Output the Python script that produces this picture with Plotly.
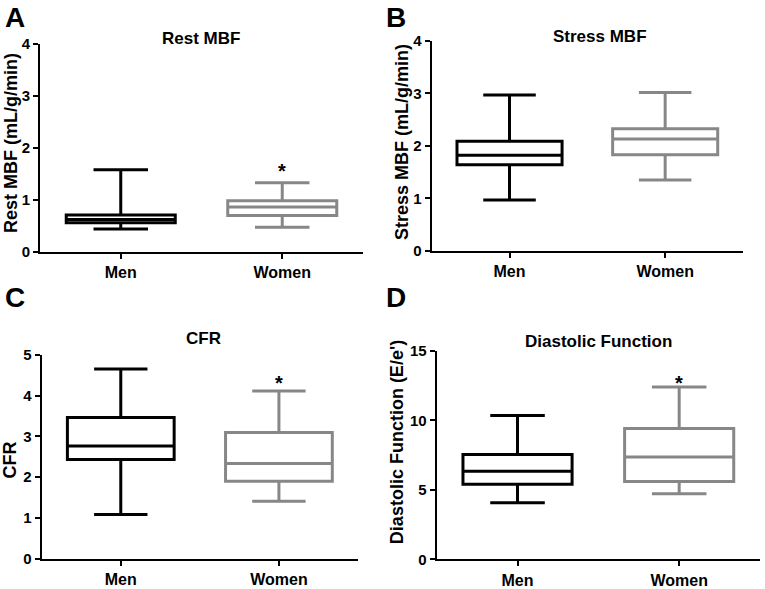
import plotly.graph_objects as go

W, H = 765, 589
groups = ["Men", "Women"]
colors = ["#000000", "#878787"]

# Panel A: Rest MBF
rest_min = [0.44, 0.47]
rest_q1 = [0.56, 0.70]
rest_median = [0.62, 0.86]
rest_q3 = [0.71, 0.98]
rest_max = [1.58, 1.33]

# Panel B: Stress MBF
stress_min = [0.97, 1.35]
stress_q1 = [1.64, 1.83]
stress_median = [1.82, 2.13]
stress_q3 = [2.09, 2.33]
stress_max = [2.97, 3.02]

# Panel C: CFR
cfr_min = [1.08, 1.41]
cfr_q1 = [2.43, 1.90]
cfr_median = [2.76, 2.33]
cfr_q3 = [3.46, 3.09]
cfr_max = [4.65, 4.11]

# Panel D: Diastolic function (E/e')
dias_min = [4.08, 4.71]
dias_q1 = [5.41, 5.60]
dias_median = [6.34, 7.37]
dias_q3 = [7.55, 9.42]
dias_max = [10.35, 12.40]

# significance marks (y positions of "*")
rest_star = 1.60
cfr_star = 4.36
dias_star = 12.85

panels = [
    dict(letter="A", title="Rest MBF", ytitle="Rest MBF (mL/g/min)",
         mn=rest_min, q1=rest_q1, md=rest_median, q3=rest_q3, mx=rest_max,
         yr=[0, 4], dtick=1, star=rest_star,
         px=(40, 363), py=(36, 250), letterpos=(3, 9), titlepos=(201, 30), ytpos=(11, 138)),
    dict(letter="B", title="Stress MBF", ytitle="Stress MBF (mL/g/min)",
         mn=stress_min, q1=stress_q1, md=stress_median, q3=stress_q3, mx=stress_max,
         yr=[0, 4], dtick=1, star=None,
         px=(431.7, 743), py=(33, 249), letterpos=(384, 9), titlepos=(600, 28), ytpos=(402, 137)),
    dict(letter="C", title="CFR", ytitle="CFR",
         mn=cfr_min, q1=cfr_q1, md=cfr_median, q3=cfr_q3, mx=cfr_max,
         yr=[0, 5], dtick=1, star=cfr_star,
         px=(41.7, 358), py=(356, 566), letterpos=(3, 297), titlepos=(203, 339), ytpos=(10, 465)),
    dict(letter="D", title="Diastolic Function", ytitle="Diastolic Function (E/e')",
         mn=dias_min, q1=dias_q1, md=dias_median, q3=dias_q3, mx=dias_max,
         yr=[0, 15], dtick=5, star=dias_star,
         px=(436.7, 760), py=(352, 566.7), letterpos=(384, 297), titlepos=(598, 342), ytpos=(397, 446)),
]

FONT = "Liberation Sans, Arial, sans-serif"
fig = go.Figure()
annotations = []
layout = {}

for i, p in enumerate(panels):
    n = "" if i == 0 else str(i + 1)
    xa, ya = "x" + n, "y" + n
    for g in range(2):
        fig.add_trace(go.Box(
            x=[g], q1=[p["q1"][g]], median=[p["md"][g]], q3=[p["q3"][g]],
            lowerfence=[p["mn"][g]], upperfence=[p["mx"][g]],
            width=0.675, whiskerwidth=0.5, boxpoints=False,
            line=dict(color=colors[g], width=3), fillcolor="white",
            name=groups[g], showlegend=False, hoverinfo="skip",
            xaxis=xa, yaxis=ya,
        ))
    axstyle = dict(showline=True, linecolor="black", linewidth=2, ticks="outside",
                   ticklen=5, tickwidth=2, tickcolor="black", showgrid=False,
                   zeroline=False, fixedrange=True)
    layout["xaxis" + n] = dict(
        domain=[p["px"][0] / W, p["px"][1] / W], range=[-0.5, 1.5],
        tickvals=[0, 1], ticktext=groups, anchor=ya,
        tickfont=dict(family=FONT, size=16, color="black", weight="bold"), **axstyle)
    layout["yaxis" + n] = dict(
        domain=[1 - p["py"][1] / H, 1 - p["py"][0] / H], range=p["yr"], dtick=p["dtick"],
        tick0=0, anchor=xa,
        tickfont=dict(family=FONT, size=15, color="black", weight="bold"), **axstyle)
    annotations.append(dict(text="<b>" + p["letter"] + "</b>", xref="paper", yref="paper",
                            x=p["letterpos"][0] / W, y=1 - p["letterpos"][1] / H,
                            xanchor="left", yanchor="middle", showarrow=False,
                            font=dict(family=FONT, size=28, color="black")))
    annotations.append(dict(text="<b>" + p["title"] + "</b>", xref="paper", yref="paper",
                            x=p["titlepos"][0] / W, y=1 - p["titlepos"][1] / H,
                            xanchor="center", yanchor="middle", showarrow=False,
                            font=dict(family=FONT, size=17, color="black")))
    annotations.append(dict(text="<b>" + p["ytitle"] + "</b>", xref="paper", yref="paper",
                            x=p["ytpos"][0] / W, y=1 - p["ytpos"][1] / H, textangle=-90,
                            xanchor="center", yanchor="middle", showarrow=False,
                            font=dict(family=FONT, size=18, color="black")))
    if p["star"] is not None:
        annotations.append(dict(text="<b>*</b>", xref=xa, yref=ya, x=1, y=p["star"],
                                xanchor="center", yanchor="middle", yshift=-2,
                                showarrow=False,
                                font=dict(family=FONT, size=20, color="black")))

fig.update_layout(
    width=W, height=H, margin=dict(l=0, r=0, t=0, b=0),
    paper_bgcolor="white", plot_bgcolor="white", boxmode="overlay",
    annotations=annotations, **layout,
)

fig.write_html("out.html", config={"displayModeBar": False},
               post_script="document.body.style.margin='0px';")
